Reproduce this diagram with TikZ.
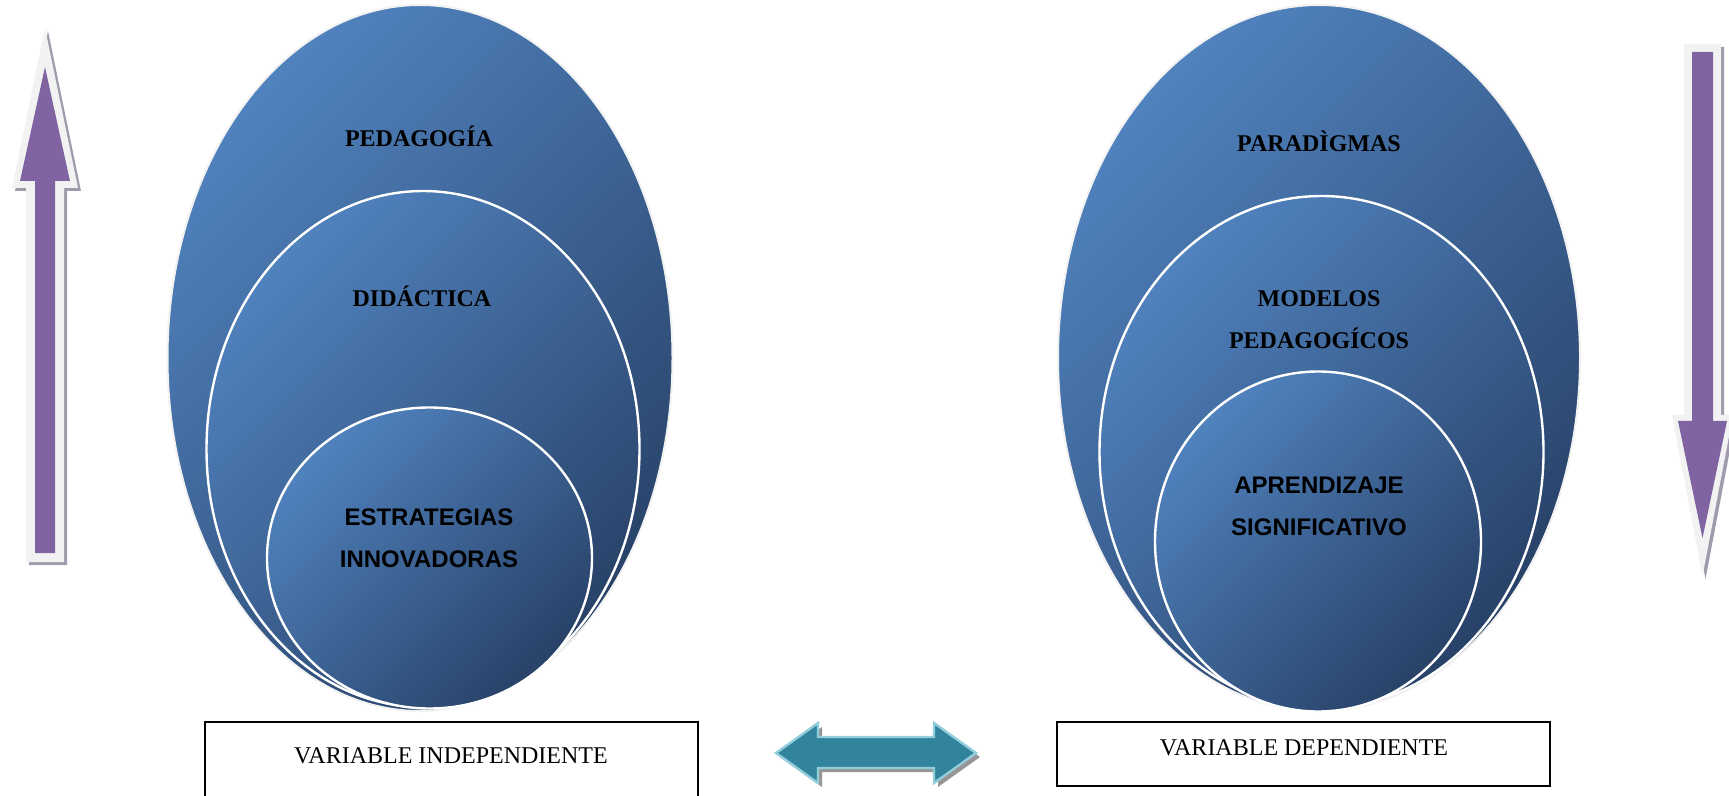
\documentclass[tikz,border=0pt]{standalone}
\usepackage{fontspec}
\setmainfont{Liberation Serif}
\newfontfamily\arialfont{Liberation Sans}
\usetikzlibrary{shapes.geometric}

\definecolor{blueL}{RGB}{80,130,190}
\definecolor{blueD}{RGB}{40,66,104}
\definecolor{purpleF}{RGB}{128,100,162}
\definecolor{rimL}{RGB}{242,242,242}
\definecolor{shadeP}{RGB}{160,154,172}
\definecolor{tealF}{RGB}{49,132,155}
\definecolor{tealL}{RGB}{146,205,220}
\definecolor{shadeT}{RGB}{150,150,150}

\tikzset{
  disc/.style={ellipse, inner sep=0pt, top color=blueL, bottom color=blueD,
               shading angle=45},
  outerdisc/.style={disc, draw=rimL, line width=1pt},
  innerdisc/.style={disc, draw=white, line width=1.2pt},
  serifhead/.style={font=\fontsize{12}{21}\selectfont\bfseries, align=center, text=black},
  sanshead/.style={font=\arialfont\fontsize{12}{21}\selectfont\bfseries, align=center, text=black},
  varbox/.style={draw=black, line width=0.6pt},
  varlabel/.style={font=\fontsize{12}{14}\selectfont, text=black},
}

\begin{document}
\begin{tikzpicture}[x=0.5pt, y=-0.5pt]
\useasboundingbox (0,0) rectangle (1729,796);

% ---- left group: pedagogy, didactics, strategies
\node[outerdisc, minimum width=252.5pt, minimum height=353pt] (ped) at (420,358) {};
\node[innerdisc, minimum width=216.5pt, minimum height=258pt] (did) at (423,449) {};
\node[innerdisc, minimum width=162.5pt, minimum height=150.5pt] (est) at (429.5,558) {};
\node[serifhead] (tped) at (419,136) {PEDAGOGÍA};
\node[serifhead] (tdid) at (422,296) {DIDÁCTICA};
\node[sanshead] (test) at (429,538) {ESTRATEGIAS\\INNOVADORAS};

% ---- right group: paradigms, models, learning
\node[outerdisc, minimum width=261pt, minimum height=353pt] (par) at (1319,358) {};
\node[innerdisc, minimum width=222pt, minimum height=256pt] (mod) at (1321.5,452) {};
\node[innerdisc, minimum width=163pt, minimum height=170pt] (apr) at (1318,541.5) {};
\node[serifhead] (tpar) at (1319,141) {PARADÌGMAS};
\node[serifhead] (tmod) at (1319,320) {MODELOS\\PEDAGOGÍCOS};
\node[sanshead] (tapr) at (1319,506) {APRENDIZAJE\\SIGNIFICATIVO};

% ---- variable boxes
\draw[varbox] (205,722) rectangle (698,800);
\node[varlabel] (vind) at (451,756) {VARIABLE INDEPENDIENTE};
\draw[varbox] (1057,722) rectangle (1550,786);
\node[varlabel] (vdep) at (1304,748) {VARIABLE DEPENDIENTE};

% ---- upward block arrow (left)
\fill[shadeP, shift={(3,3)}] (26,562) -- (64,562) -- (64,188) -- (78,188) -- (45,28) -- (12,188) -- (26,188) -- cycle;
\fill[rimL] (26,562) -- (64,562) -- (64,188) -- (78,188) -- (45,28) -- (12,188) -- (26,188) -- cycle;
\fill[purpleF] (35,553) -- (55,553) -- (55,181) -- (70,181) -- (45,67) -- (20,181) -- (35,181) -- cycle;

% ---- downward block arrow (right)
\fill[shadeP, shift={(3,3)}] (1684,44) -- (1721,44) -- (1721,415) -- (1733,415) -- (1702.5,576) -- (1672,415) -- (1684,415) -- cycle;
\fill[rimL] (1684,44) -- (1721,44) -- (1721,415) -- (1733,415) -- (1702.5,576) -- (1672,415) -- (1684,415) -- cycle;
\fill[purpleF] (1692,52) -- (1713,52) -- (1713,421) -- (1727,421) -- (1702.5,538) -- (1678,421) -- (1692,421) -- cycle;

% ---- double-headed block arrow between the variables
\fill[shadeT, shift={(4,4)}] (776,753) -- (818,723) -- (818,737) -- (934,737) -- (934,723) -- (976,753) -- (934,783) -- (934,768) -- (818,768) -- (818,783) -- cycle;
\filldraw[fill=tealF, draw=tealL, line width=1.2pt] (776,753) -- (818,723) -- (818,737) -- (934,737) -- (934,723) -- (976,753) -- (934,783) -- (934,768) -- (818,768) -- (818,783) -- cycle;
\end{tikzpicture}
\end{document}
